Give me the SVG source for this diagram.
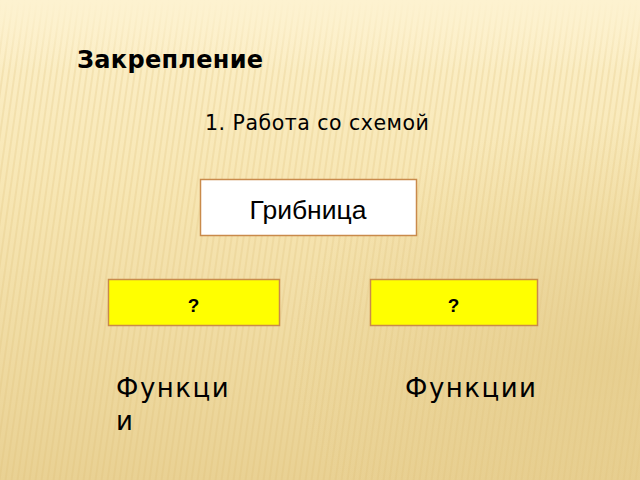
<svg xmlns="http://www.w3.org/2000/svg" width="640" height="480" viewBox="0 0 640 480">
  <defs>
    <linearGradient id="bg" x1="0" y1="0" x2="0" y2="1">
      <stop offset="0" stop-color="#fdf1cc"/>
      <stop offset="0.4" stop-color="#f7e6b3"/>
      <stop offset="1" stop-color="#e9d193"/>
    </linearGradient>
    <radialGradient id="glow" cx="0.95" cy="0.75" r="0.5">
      <stop offset="0" stop-color="#e2c886" stop-opacity="0.6"/>
      <stop offset="1" stop-color="#e2c886" stop-opacity="0"/>
    </radialGradient>
    <pattern id="stripes" width="6" height="480" patternUnits="userSpaceOnUse" patternTransform="skewX(-8)">
      <rect x="0" y="0" width="2" height="480" fill="#d9bb72" opacity="0.22"/>
    </pattern>
    <linearGradient id="fadeTop" x1="0" y1="0" x2="0" y2="1">
      <stop offset="0" stop-color="#fdf2d0" stop-opacity="1"/>
      <stop offset="0.15" stop-color="#fdf2d0" stop-opacity="0"/>
    </linearGradient>
    <style>
      .box { stroke: #c98a4b; stroke-width: 1.5; }
      .white { fill: #ffffff; }
      .yellow { fill: #ffff00; }
      .sans { font-family: "DejaVu Sans", "Liberation Sans", sans-serif; fill: #000; }
      .arial { font-family: "Liberation Sans", Arial, sans-serif; fill: #000; }
    </style>
  </defs>
  <rect width="640" height="480" fill="url(#bg)"/>
  <rect width="640" height="480" fill="url(#stripes)"/>
  <rect width="640" height="480" fill="url(#glow)"/>
  <rect width="640" height="480" fill="url(#fadeTop)"/>

  <text class="sans" x="77" y="68" font-size="24" font-weight="bold" letter-spacing="0.3">Закрепление</text>
  <text class="sans" x="205" y="130" font-size="20.5" letter-spacing="0.5">1. Работа со схемой</text>

  <g id="connectors"></g>

  <g id="node-gribnitsa">
    <rect class="box white" x="200.5" y="179.5" width="216" height="56"/>
    <text class="arial" x="308" y="219" font-size="26.5" text-anchor="middle">Грибница</text>
  </g>
  <g id="node-q1">
    <rect class="box yellow" x="108.5" y="279.5" width="171" height="46"/>
    <text class="arial" x="193.5" y="311.5" font-size="19" font-weight="bold" text-anchor="middle">?</text>
  </g>
  <g id="node-q2">
    <rect class="box yellow" x="370.5" y="279.5" width="167" height="46"/>
    <text class="arial" x="453.5" y="311.5" font-size="19" font-weight="bold" text-anchor="middle">?</text>
  </g>
  <g id="label-func1">
    <text class="sans" x="116" y="397" font-size="26" letter-spacing="1.5">Функци</text>
    <text class="sans" x="116" y="430" font-size="26">и</text>
  </g>
  <g id="label-func2">
    <text class="sans" x="405" y="397" font-size="26" letter-spacing="1.5">Функции</text>
  </g>
</svg>
